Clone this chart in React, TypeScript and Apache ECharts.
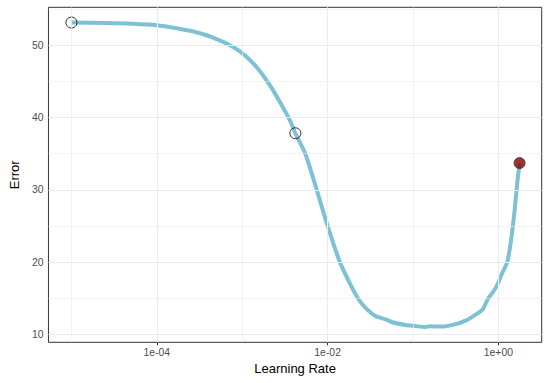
import React, { useEffect, useRef } from 'react';
import * as echarts from 'echarts';

const learningRate = [
  1.0e-5, 2.51e-5, 5.01e-5, 1.0e-4, 1.81e-4, 2.82e-4, 4.41e-4, 7.48e-4,
  1.07e-3, 1.52e-3, 2.17e-3, 2.82e-3, 3.68e-3, 4.19e-3, 5.48e-3, 7.46e-3,
  1.0e-2, 1.39e-2, 1.78e-2, 2.26e-2, 2.82e-2, 3.67e-2, 4.8e-2, 5.73e-2,
  8.15e-2, 0.106, 0.139, 0.158, 0.216, 0.308, 0.42, 0.524, 0.653, 0.746,
  0.931, 1.11, 1.27, 1.41, 1.55, 1.66, 1.77,
];
const errorValues = [
  53.15, 53.08, 52.98, 52.78, 52.3, 51.85, 51.14, 49.9,
  48.62, 46.8, 44.26, 41.98, 39.45, 37.83, 35.0, 30.0,
  25.0, 20.0, 17.3, 15.0, 13.6, 12.5, 12.07, 11.67,
  11.29, 11.15, 11.01, 11.12, 11.07, 11.38, 11.93, 12.62, 13.44, 14.82,
  16.43, 18.49, 20.0, 23.1, 27.2, 30.9, 33.7,
];
const markedRate = [1.0e-5, 4.19e-3];
const markedError = [53.15, 37.83];
const suggestedRate = [1.77];
const suggestedError = [33.7];
const xMajorTicks = [1e-4, 1e-2, 1];
const xMinorTicks = [1e-5, 1e-3, 1e-1];
const yMajorTicks = [10, 20, 30, 40, 50];
const yMinorTicks = [15, 25, 35, 45, 55];
const xTitle = 'Learning Rate';
const yTitle = 'Error';

const lg = (v: number) => Math.log10(v);
const fmtExp = (v: number) => {
  const e = Math.round(v);
  return '1e' + (e < 0 ? '-' : '+') + String(Math.abs(e)).padStart(2, '0');
};

const FONT = '"Liberation Sans", Arial, Helvetica, sans-serif';
const X_MIN = -5.269;
const X_MAX = 0.507;
const Y_MIN = 8.9;
const Y_MAX = 55.26;
const GRID_COLOR = '#EBEBEB';
const MAJOR_W = 1.1;
const MINOR_W = 0.6;

export default function App() {
  const ref = useRef<HTMLDivElement>(null);
  useEffect(() => {
    document.body.style.margin = '0';
    if (!ref.current) return;
    const chart = echarts.init(ref.current, null, { renderer: 'svg' });
    const gl = (w: number) => ({ lineStyle: { color: GRID_COLOR, width: w, type: 'solid' } });
    chart.setOption({
      animation: false,
      backgroundColor: '#ffffff',
      grid: {
        left: 41,
        right: 7.3,
        top: 7.3,
        bottom: 40.7,
        show: true,
        borderColor: '#333333',
        borderWidth: 1,
        backgroundColor: 'transparent',
      },
      xAxis: {
        type: 'value',
        min: X_MIN,
        max: X_MAX,
        position: 'bottom',
        axisLine: { show: false },
        axisTick: {
          show: true,
          length: 3,
          lineStyle: { color: '#333333', width: 1 },
          customValues: xMajorTicks.map(lg),
        },
        axisLabel: {
          customValues: xMajorTicks.map(lg),
          formatter: (v: number) => fmtExp(v),
          color: '#4D4D4D',
          fontSize: 10.4,
          fontFamily: FONT,
          margin: 5,
        },
        splitLine: { show: false },
        name: xTitle,
        nameLocation: 'middle',
        nameGap: 18,
        nameTextStyle: { color: '#000000', fontSize: 13, fontFamily: FONT },
      },
      yAxis: {
        type: 'value',
        min: Y_MIN,
        max: Y_MAX,
        position: 'left',
        axisLine: { show: false },
        axisTick: {
          show: true,
          length: 3,
          lineStyle: { color: '#333333', width: 1 },
          customValues: yMajorTicks,
        },
        axisLabel: {
          customValues: yMajorTicks,
          color: '#4D4D4D',
          fontSize: 10.4,
          fontFamily: FONT,
          margin: 5,
        },
        splitLine: { show: false },
        name: yTitle,
        nameLocation: 'middle',
        nameGap: 24,
        nameTextStyle: { color: '#000000', fontSize: 13, fontFamily: FONT },
      },
      series: [
        {
          type: 'line',
          data: [],
          silent: true,
          z: 1,
          markLine: {
            silent: true,
            animation: false,
            symbol: ['none', 'none'],
            label: { show: false },
            emphasis: { disabled: true },
            data: [
              ...yMinorTicks.map((v) => ({ yAxis: v, ...gl(MINOR_W) })),
              ...xMinorTicks.map((v) => ({ xAxis: lg(v), ...gl(MINOR_W) })),
              ...yMajorTicks.map((v) => ({ yAxis: v, ...gl(MAJOR_W) })),
              ...xMajorTicks.map((v) => ({ xAxis: lg(v), ...gl(MAJOR_W) })),
            ],
          },
        },
        {
          type: 'line',
          data: learningRate.map((r, i) => [lg(r), errorValues[i]]),
          showSymbol: false,
          smooth: 0.25,
          lineStyle: { color: '#7EC1D4', width: 4 },
          z: 2,
          silent: true,
        },
        {
          type: 'scatter',
          data: markedRate.map((r, i) => [lg(r), markedError[i]]),
          symbol: 'circle',
          symbolSize: 11,
          itemStyle: { color: 'rgba(0,0,0,0)', borderColor: '#000000', borderWidth: 1 },
          z: 3,
          silent: true,
        },
        {
          type: 'scatter',
          data: suggestedRate.map((r, i) => [lg(r), suggestedError[i]]),
          symbol: 'circle',
          symbolSize: 11,
          itemStyle: { color: '#8B0000', borderColor: '#333333', borderWidth: 1 },
          z: 4,
          silent: true,
        },
      ],
    });
    return () => chart.dispose();
  }, []);
  return <div ref={ref} style={{ width: 549, height: 383 }} />;
}
